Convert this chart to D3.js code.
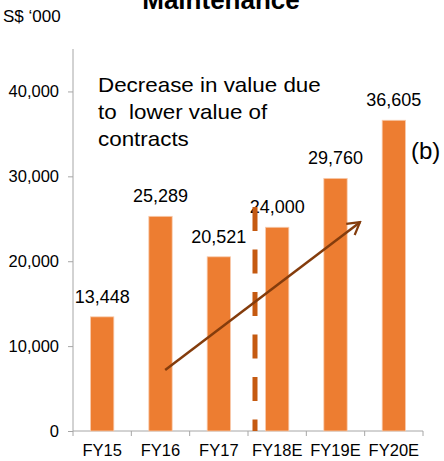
<!DOCTYPE html>
<html>
<head>
<meta charset="utf-8">
<script src="https://cdn.jsdelivr.net/npm/d3@7"></script>
<style>
  html, body { margin: 0; padding: 0; background: #fff; }
  svg { display: block; font-family: "Liberation Sans", Arial, sans-serif; }
</style>
</head>
<body>
<svg id="chart" width="444" height="461"></svg>
<script>
const categories = ["FY15", "FY16", "FY17", "FY18E", "FY19E", "FY20E"];
const values = [13448, 25289, 20521, 24000, 29760, 36605];
const yTicks = [0, 10000, 20000, 30000, 40000];
const titleText = "Maintenance";
const unitText = "S$ \u2018000";
const noteLines = ["Decrease in value due", "to  lower value of", "contracts"];
const noteTag = "(b)";
// dashed separator: category-index position and value range
const separator = { pos: 2.62, from: 0, to: 26400 };
// trend arrow in (category-index, value) space
const arrowFrom = [1.08, 7200];
const arrowTo = [4.42, 24600];

(function () {
const svg = d3.select("#chart");
const mLeft = 73, mRight = 423, mTop = 49, mBottom = 431;

const x = d3.scaleBand().domain(categories).range([mLeft, mRight])
  .paddingInner(0.6).paddingOuter(0.3);
const xi = d3.scaleLinear().domain([-0.5, categories.length - 0.5]).range([mLeft, mRight]);
const y = d3.scaleLinear().domain([0, 45000]).range([mBottom, mTop]);

const axisColor = "#A6A6A6";

// title
svg.append("text").attr("x", 221).attr("y", 9).attr("text-anchor", "middle")
  .attr("font-size", 26).attr("font-weight", "bold").attr("fill", "#000").text(titleText);
svg.append("text").attr("x", 3).attr("y", 22).attr("font-size", 17).attr("fill", "#000").text(unitText);

// y axis
const yAxis = d3.axisLeft(y).tickValues(yTicks).tickSize(5).tickPadding(9)
  .tickFormat(d3.format(","));
const gy = svg.append("g").attr("transform", `translate(${mLeft},0)`).call(yAxis);
gy.select(".domain").remove();
gy.append("line").attr("x1", 0).attr("x2", 0).attr("y1", mTop).attr("y2", mBottom)
  .attr("stroke", axisColor);
gy.selectAll(".tick line").attr("stroke", axisColor);
gy.selectAll(".tick text").attr("font-size", 16.5).attr("fill", "#000")
  .attr("font-family", "Liberation Sans, Arial, sans-serif");

// x axis
const xAxis = d3.axisBottom(x).tickSize(0).tickPadding(13);
const gx = svg.append("g").attr("transform", `translate(0,${mBottom})`).call(xAxis);
gx.select(".domain").remove();
gx.selectAll(".tick text").attr("font-size", 16.5).attr("fill", "#000")
  .attr("font-family", "Liberation Sans, Arial, sans-serif");
gx.append("line").attr("x1", mLeft).attr("x2", mRight).attr("y1", 0).attr("y2", 0)
  .attr("stroke", axisColor);
const bounds = d3.range(categories.length + 1).map(i => xi(i - 0.5));
gx.selectAll(".btick").data(bounds).join("line").attr("class", "btick")
  .attr("x1", d => d).attr("x2", d => d).attr("y1", 0).attr("y2", 5).attr("stroke", axisColor);

// bars
svg.append("g").selectAll("rect").data(values).join("rect")
  .attr("x", (d, i) => x(categories[i]))
  .attr("width", x.bandwidth())
  .attr("y", d => y(d))
  .attr("height", d => y(0) - y(d))
  .attr("fill", "#ED7D31")
  .attr("stroke", "#F8CBAD").attr("stroke-width", 0.8);

// value labels
svg.append("g").selectAll("text").data(values).join("text")
  .attr("x", (d, i) => x(categories[i]) + x.bandwidth() / 2)
  .attr("y", d => y(d) - 14)
  .attr("text-anchor", "middle").attr("font-size", 18).attr("fill", "#000")
  .text(d3.format(","));

// dashed separator
svg.append("line")
  .attr("x1", xi(separator.pos)).attr("x2", xi(separator.pos))
  .attr("y1", y(separator.to)).attr("y2", y(separator.from))
  .attr("stroke", "#C55A11").attr("stroke-width", 5)
  .attr("stroke-dasharray", "24,18.5");

// arrow
const defs = svg.append("defs");
defs.append("marker").attr("id", "ah").attr("markerUnits", "userSpaceOnUse")
  .attr("viewBox", "0 0 16 16").attr("refX", 14).attr("refY", 8)
  .attr("markerWidth", 16).attr("markerHeight", 16).attr("orient", "auto")
  .append("path").attr("d", "M2,1 L14,8 L2,15").attr("fill", "none")
  .attr("stroke", "#843C0C").attr("stroke-width", 2.2).attr("stroke-linejoin", "miter");
svg.append("line")
  .attr("x1", xi(arrowFrom[0])).attr("y1", y(arrowFrom[1]))
  .attr("x2", xi(arrowTo[0])).attr("y2", y(arrowTo[1]))
  .attr("stroke", "#843C0C").attr("stroke-width", 2.5)
  .attr("marker-end", "url(#ah)");

// note
const note = svg.append("g").attr("transform", "translate(98,0) scale(1.12,1)");
note.selectAll("text").data(noteLines).join("text")
  .attr("x", 0).attr("y", (d, i) => 92 + i * 27)
  .attr("font-size", 20).attr("fill", "#000")
  .style("white-space", "pre").text(d => d);

svg.append("text").attr("x", 411).attr("y", 159).attr("font-size", 24)
  .attr("fill", "#000").text(noteTag);
})();
</script>
</body>
</html>
